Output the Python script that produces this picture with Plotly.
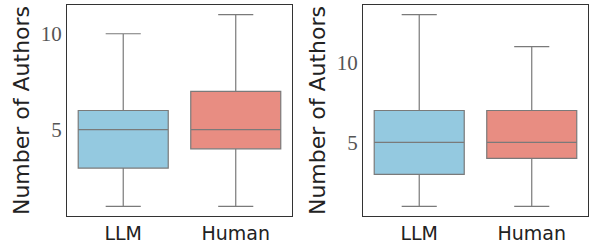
import plotly.graph_objects as go

categories = ["LLM", "Human"]
colors = ["#94C9E0", "#E88D82"]

# left panel stats: [lower whisker, q1, median, q3, upper whisker]
left_low = [1, 1]
left_q1 = [3, 4]
left_med = [5, 5]
left_q3 = [6, 7]
left_high = [10, 11]

right_low = [1, 1]
right_q1 = [3, 4]
right_med = [5, 5]
right_q3 = [7, 7]
right_high = [13, 11]

ytitle = "Number of Authors"
yticks = [5, 10]

fig = go.Figure()

panels = [
    ("x", "y", left_low, left_q1, left_med, left_q3, left_high),
    ("x2", "y2", right_low, right_q1, right_med, right_q3, right_high),
]
for xa, ya, lo, q1, md, q3, hi in panels:
    for i, cat in enumerate(categories):
        fig.add_trace(go.Box(
            x=[cat], q1=[q1[i]], median=[md[i]], q3=[q3[i]],
            lowerfence=[lo[i]], upperfence=[hi[i]],
            fillcolor=colors[i], line=dict(color="#7a7a7a", width=1.2),
            width=0.8, whiskerwidth=0.39, boxpoints=False,
            xaxis=xa, yaxis=ya, showlegend=False, hoverinfo="skip",
        ))

common_x = dict(
    type="category", categoryorder="array", categoryarray=categories,
    range=[-0.5, 1.5], showline=True, mirror=True, linecolor="#333333",
    linewidth=1.2, showgrid=False, zeroline=False, ticks="", automargin=False,
    tickfont=dict(family="DejaVu Sans", size=19, color="#222222"),
)
common_y = dict(
    showline=True, mirror=True, linecolor="#333333", linewidth=1.2,
    showgrid=False, zeroline=False, ticks="", tickvals=yticks, automargin=False,
    tickfont=dict(family="Liberation Serif", size=21, color="#555555"),
    title=dict(text=ytitle, font=dict(family="DejaVu Sans", size=22, color="#222222"), standoff=4),
)

fig.update_layout(
    width=596, height=246,
    margin=dict(l=0, r=8, t=5, b=30),
    paper_bgcolor="white", plot_bgcolor="white",
    boxmode="overlay",
    xaxis=dict(domain=[0.1139, 0.4966], anchor="y", **common_x),
    yaxis=dict(domain=[0, 1], anchor="x", range=[0.5, 11.5], **common_y),
    xaxis2=dict(domain=[0.6173, 1.0], anchor="y2", **common_x),
    yaxis2=dict(domain=[0, 1], anchor="x2", range=[0.4, 13.6], **common_y),
)

fig.write_html("out.html", config={"displayModeBar": False},
               post_script="document.body.style.margin='0';")
